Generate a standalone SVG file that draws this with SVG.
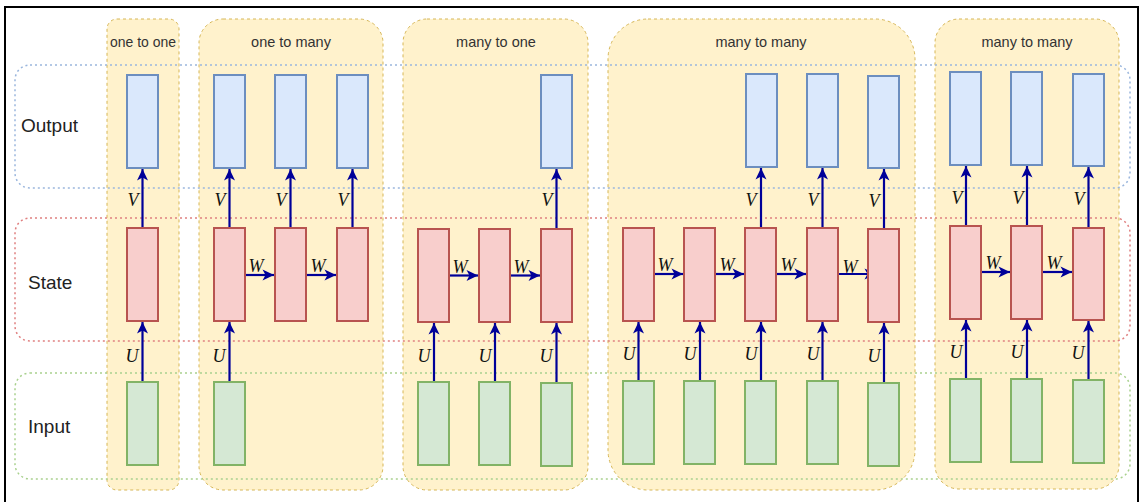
<svg xmlns="http://www.w3.org/2000/svg" width="1141" height="502" viewBox="0 0 1141 502">
<style>
.col{fill:#fff2cc;stroke:#d6b656;stroke-width:1;stroke-dasharray:3 3}
.lane{fill:none;stroke-width:1.5;stroke-dasharray:2 3}
.out{fill:#dae8fc;stroke:#6c8ebf;stroke-width:2}
.st{fill:#f8cecc;stroke:#b85450;stroke-width:2}
.in{fill:#d5e8d4;stroke:#82b366;stroke-width:2}
.arr{stroke:#000099;stroke-width:2.2;fill:none;marker-end:url(#ah)}
.hd{font-family:"Liberation Sans",Arial,sans-serif;font-size:14.5px;fill:#333;text-anchor:middle}
.ln{font-family:"Liberation Sans",Arial,sans-serif;font-size:19px;fill:#222}
.lb{font-family:"Liberation Serif","Times New Roman",serif;font-style:italic;font-size:18px;fill:#111;text-anchor:middle}
</style>
<defs>
<marker id="ah" markerUnits="userSpaceOnUse" markerWidth="14" markerHeight="14" viewBox="0 0 14 14" refX="12.5" refY="7" orient="auto">
<path d="M1,1.5 L12.5,7 L1,12.5 L4,7 Z" fill="#000099"/>
</marker>
</defs>
<rect x="0" y="0" width="1141" height="502" fill="#ffffff"/>
<rect x="5" y="7" width="1133" height="520" fill="none" stroke="#000" stroke-width="2"/>

<g id="columns">
<g id="col-one-to-one"><rect class="col" x="107" y="19" width="72" height="471" rx="10"/><text class="hd" x="143" y="47" textLength="66" lengthAdjust="spacingAndGlyphs">one to one</text></g>
<g id="col-one-to-many"><rect class="col" x="199" y="19" width="184" height="471" rx="24"/><text class="hd" x="291" y="47">one to many</text></g>
<g id="col-many-to-one"><rect class="col" x="403" y="19" width="185" height="471" rx="24"/><text class="hd" x="496" y="47">many to one</text></g>
<g id="col-many-to-many-1"><rect class="col" x="608" y="19" width="307" height="471" rx="40"/><text class="hd" x="761" y="47">many to many</text></g>
<g id="col-many-to-many-2"><rect class="col" x="935" y="19" width="184" height="470" rx="24"/><text class="hd" x="1027" y="47">many to many</text></g>
</g>

<g id="lanes">
<g id="lane-output"><rect class="lane" x="15" y="65" width="1115" height="123" rx="15" stroke="#9ab6dd"/><text class="ln" x="21" y="132">Output</text></g>
<g id="lane-state"><rect class="lane" x="15" y="218" width="1115" height="123" rx="15" stroke="#e08080"/><text class="ln" x="28" y="289">State</text></g>
<g id="lane-input"><rect class="lane" x="15" y="373" width="1115" height="106" rx="15" stroke="#a9d18e"/><text class="ln" x="28" y="433">Input</text></g>
</g>

<g id="connectors">
<!-- col1 -->
<line class="arr" x1="142.5" y1="228" x2="142.5" y2="169"/>
<line class="arr" x1="142.5" y1="382" x2="142.5" y2="322"/>
<text class="lb" x="133" y="206">V</text><text class="lb" x="132" y="362">U</text>
<!-- col2 -->
<line class="arr" x1="229.5" y1="228" x2="229.5" y2="169"/>
<line class="arr" x1="290.5" y1="228" x2="290.5" y2="169"/>
<line class="arr" x1="352.5" y1="228" x2="352.5" y2="169"/>
<line class="arr" x1="229.5" y1="382" x2="229.5" y2="322"/>
<line class="arr" x1="245" y1="275" x2="274" y2="275"/>
<line class="arr" x1="306" y1="275" x2="336" y2="275"/>
<text class="lb" x="220" y="206">V</text><text class="lb" x="281" y="206">V</text><text class="lb" x="343" y="206">V</text>
<text class="lb" x="219" y="362">U</text>
<text class="lb" x="256" y="272">W</text><text class="lb" x="318" y="272">W</text>
<!-- col3 -->
<line class="arr" x1="556.5" y1="229" x2="556.5" y2="169"/>
<line class="arr" x1="434" y1="382" x2="434" y2="323"/>
<line class="arr" x1="495" y1="382" x2="495" y2="323"/>
<line class="arr" x1="556.5" y1="382" x2="556.5" y2="323"/>
<line class="arr" x1="450" y1="275.5" x2="478" y2="275.5"/>
<line class="arr" x1="511" y1="275.5" x2="540" y2="275.5"/>
<text class="lb" x="547" y="206">V</text>
<text class="lb" x="424" y="362">U</text><text class="lb" x="485" y="362">U</text><text class="lb" x="546" y="362">U</text>
<text class="lb" x="460" y="273">W</text><text class="lb" x="521" y="273">W</text>
<!-- col4 -->
<line class="arr" x1="761" y1="228" x2="761" y2="168"/>
<line class="arr" x1="822.5" y1="228" x2="822.5" y2="168"/>
<line class="arr" x1="884" y1="229" x2="884" y2="169"/>
<line class="arr" x1="638.5" y1="381" x2="638.5" y2="322"/>
<line class="arr" x1="700" y1="381" x2="700" y2="322"/>
<line class="arr" x1="761" y1="381" x2="761" y2="322"/>
<line class="arr" x1="822.5" y1="381" x2="822.5" y2="322"/>
<line class="arr" x1="884" y1="383" x2="884" y2="323"/>
<line class="arr" x1="654" y1="274" x2="683" y2="274"/>
<line class="arr" x1="716" y1="274" x2="744" y2="274"/>
<line class="arr" x1="777" y1="274" x2="806" y2="274"/>
<line class="arr" x1="838" y1="274" x2="876" y2="274"/>
<text class="lb" x="751" y="206">V</text><text class="lb" x="813" y="206">V</text><text class="lb" x="874" y="207">V</text>
<text class="lb" x="629" y="360">U</text><text class="lb" x="690" y="360">U</text><text class="lb" x="751" y="360">U</text><text class="lb" x="813" y="360">U</text><text class="lb" x="874" y="362">U</text>
<text class="lb" x="665" y="271">W</text><text class="lb" x="727" y="271">W</text><text class="lb" x="788" y="271">W</text><text class="lb" x="850" y="273">W</text>
<!-- col5 -->
<line class="arr" x1="966" y1="226" x2="966" y2="166"/>
<line class="arr" x1="1027" y1="226" x2="1027" y2="166"/>
<line class="arr" x1="1088.5" y1="228" x2="1088.5" y2="167"/>
<line class="arr" x1="966" y1="379" x2="966" y2="320"/>
<line class="arr" x1="1027" y1="379" x2="1027" y2="320"/>
<line class="arr" x1="1088.5" y1="380" x2="1088.5" y2="321"/>
<line class="arr" x1="981" y1="272" x2="1010" y2="272"/>
<line class="arr" x1="1042" y1="272" x2="1072" y2="272"/>
<text class="lb" x="957" y="204">V</text><text class="lb" x="1018" y="204">V</text><text class="lb" x="1079" y="205">V</text>
<text class="lb" x="956" y="358">U</text><text class="lb" x="1017" y="358">U</text><text class="lb" x="1078" y="359">U</text>
<text class="lb" x="993" y="269">W</text><text class="lb" x="1054" y="269">W</text>
</g>

<g id="nodes">
<g id="c1"><rect class="out" x="127" y="75" width="31" height="93"/><rect class="st" x="127" y="228" width="31" height="93"/><rect class="in" x="127" y="382" width="31" height="83"/></g>
<g id="c2"><rect class="out" x="214" y="75" width="31" height="93"/><rect class="out" x="275" y="75" width="31" height="93"/><rect class="out" x="337" y="75" width="31" height="93"/>
<rect class="st" x="214" y="228" width="31" height="93"/><rect class="st" x="275" y="228" width="31" height="93"/><rect class="st" x="337" y="228" width="31" height="93"/>
<rect class="in" x="214" y="382" width="31" height="83"/></g>
<g id="c3"><rect class="out" x="541" y="75" width="31" height="93"/>
<rect class="st" x="418" y="229" width="31" height="93"/><rect class="st" x="479" y="229" width="31" height="93"/><rect class="st" x="541" y="229" width="31" height="93"/>
<rect class="in" x="418" y="382" width="31" height="83"/><rect class="in" x="479" y="382" width="31" height="83"/><rect class="in" x="541" y="383" width="31" height="83"/></g>
<g id="c4"><rect class="out" x="746" y="74" width="31" height="93"/><rect class="out" x="807" y="74" width="31" height="93"/><rect class="out" x="868" y="76" width="31" height="92"/>
<rect class="st" x="623" y="228" width="31" height="93"/><rect class="st" x="684" y="228" width="31" height="93"/><rect class="st" x="745" y="228" width="31" height="93"/><rect class="st" x="807" y="228" width="31" height="93"/><rect class="st" x="868" y="229" width="31" height="93"/>
<rect class="in" x="623" y="381" width="31" height="83"/><rect class="in" x="684" y="381" width="31" height="83"/><rect class="in" x="745" y="381" width="31" height="83"/><rect class="in" x="807" y="381" width="31" height="83"/><rect class="in" x="868" y="383" width="31" height="83"/></g>
<g id="c5"><rect class="out" x="950" y="72" width="31" height="93"/><rect class="out" x="1011" y="72" width="31" height="93"/><rect class="out" x="1073" y="74" width="31" height="92"/>
<rect class="st" x="950" y="226" width="31" height="93"/><rect class="st" x="1011" y="226" width="31" height="93"/><rect class="st" x="1073" y="228" width="31" height="92"/>
<rect class="in" x="950" y="379" width="31" height="83"/><rect class="in" x="1011" y="379" width="31" height="83"/><rect class="in" x="1073" y="380" width="31" height="83"/></g>
</g>
</svg>
